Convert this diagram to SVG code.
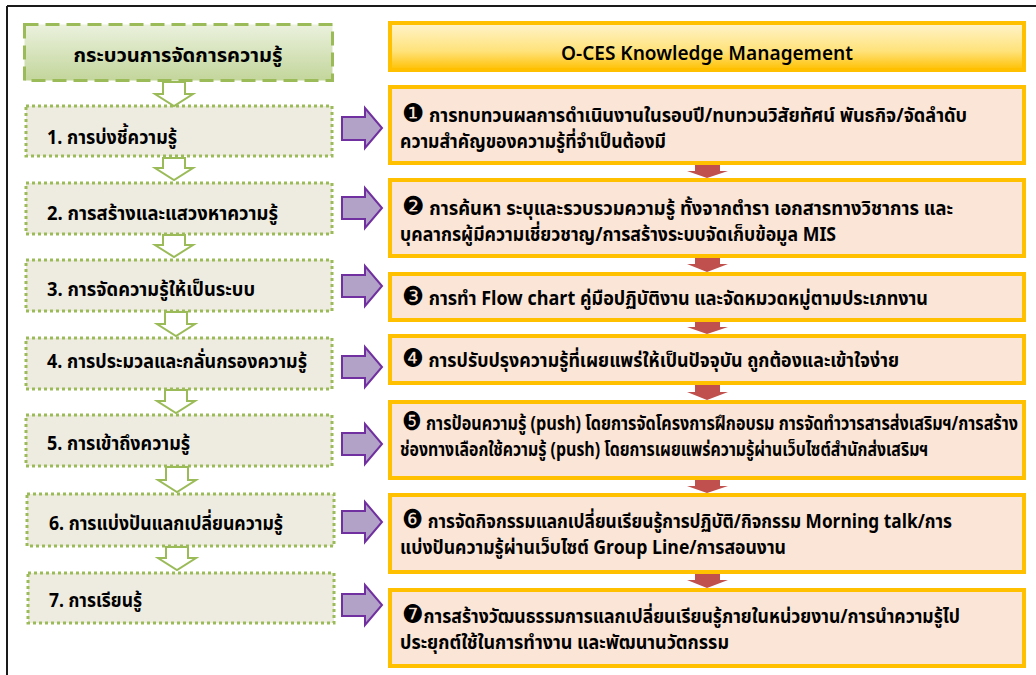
<svg xmlns="http://www.w3.org/2000/svg" width="1036" height="675" viewBox="0 0 1036 675">
<defs>
<linearGradient id="gHead" x1="0" y1="0" x2="0" y2="1">
<stop offset="0" stop-color="#ebf1de"/>
<stop offset="1" stop-color="#c3d69b"/>
</linearGradient>
<linearGradient id="yHead" x1="0" y1="0" x2="0" y2="1">
<stop offset="0" stop-color="#fff4cc"/>
<stop offset="0.6" stop-color="#ffe27a"/>
<stop offset="1" stop-color="#ffc000"/>
</linearGradient>
</defs>
<style>
.frame{stroke:#1a1a1a;stroke-width:2;fill:none}
.lhead{fill:url(#gHead);stroke:#9bbb59;stroke-width:3;stroke-dasharray:14 7}
.lbox{fill:#eeece1;stroke:#9bbb59;stroke-width:3;stroke-dasharray:3 3}
.rhead{fill:url(#yHead);stroke:#ffc000;stroke-width:4}
.rbox{fill:#fbe5d6;stroke:#ffc000;stroke-width:4}
.garrow{fill:#ffffff;stroke:#9bbb59;stroke-width:2}
.parrow{fill:#b3a2c7;stroke:#7030a0;stroke-width:2}
.rarrow{fill:#c0504d}
text{font-family:"Noto Sans Thai","Noto Sans","Liberation Sans",sans-serif;fill:#000;font-size:19px;font-weight:bold}
.lt{font-size:20px}
.num{font-family:"DejaVu Sans",sans-serif;font-size:26px;font-weight:normal}
</style>
<g id="frame">
<line class="frame" x1="7" y1="6" x2="1036" y2="6"/>
<line class="frame" x1="7" y1="6" x2="7" y2="675"/>
</g>
<g id="left-header">
<rect class="lhead" x="24.5" y="24.5" width="308" height="56"/>
<text class="lt" x="178" y="62" text-anchor="middle" textLength="209" lengthAdjust="spacingAndGlyphs">กระบวนการจัดการความรู้</text>
</g>
<g id="right-header">
<rect class="rhead" x="390" y="23" width="634" height="47"/>
<text x="707" y="60" text-anchor="middle" textLength="292" lengthAdjust="spacingAndGlyphs" style="font-size:20px;font-weight:600">O-CES Knowledge Management</text>
</g>
<g id="step1"><rect class="lbox" x="26" y="106" width="306" height="50"/><text class="lt" x="47" y="144" textLength="130" lengthAdjust="spacingAndGlyphs">1. การบ่งชี้ความรู้</text></g>
<g id="step2"><rect class="lbox" x="26" y="183" width="306" height="51"/><text class="lt" x="47" y="220" textLength="231" lengthAdjust="spacingAndGlyphs">2. การสร้างและแสวงหาความรู้</text></g>
<g id="step3"><rect class="lbox" x="26" y="260" width="306" height="51"/><text class="lt" x="47" y="296" textLength="208" lengthAdjust="spacingAndGlyphs">3. การจัดความรู้ให้เป็นระบบ</text></g>
<g id="step4"><rect class="lbox" x="26" y="338" width="306" height="51"/><text class="lt" x="47" y="368" textLength="260" lengthAdjust="spacingAndGlyphs">4. การประมวลและกลั่นกรองความรู้</text></g>
<g id="step5"><rect class="lbox" x="26" y="415" width="306" height="51"/><text class="lt" x="47" y="450" textLength="143" lengthAdjust="spacingAndGlyphs">5. การเข้าถึงความรู้</text></g>
<g id="step6"><rect class="lbox" x="27" y="494" width="307" height="52"/><text class="lt" x="49" y="530" textLength="234" lengthAdjust="spacingAndGlyphs">6. การแบ่งปันแลกเปลี่ยนความรู้</text></g>
<g id="step7"><rect class="lbox" x="28" y="573" width="306" height="50"/><text class="lt" x="49" y="607" textLength="93" lengthAdjust="spacingAndGlyphs">7. การเรียนรู้</text></g>
<g id="km1"><rect class="rbox" x="390" y="87" width="634" height="76"/>
<text x="402" y="122" textLength="565" lengthAdjust="spacingAndGlyphs"><tspan class="num">❶</tspan> การทบทวนผลการดำเนินงานในรอบปี/ทบทวนวิสัยทัศน์ พันธกิจ/จัดลำดับ</text>
<text x="400" y="148" textLength="266" lengthAdjust="spacingAndGlyphs">ความสำคัญของความรู้ที่จำเป็นต้องมี</text></g>
<g id="km2"><rect class="rbox" x="390" y="180" width="634" height="76"/>
<text x="402" y="215" textLength="551" lengthAdjust="spacingAndGlyphs"><tspan class="num">❷</tspan> การค้นหา ระบุและรวบรวมความรู้ ทั้งจากตำรา เอกสารทางวิชาการ และ</text>
<text x="400" y="241" textLength="436" lengthAdjust="spacingAndGlyphs">บุคลากรผู้มีความเชี่ยวชาญ/การสร้างระบบจัดเก็บข้อมูล MIS</text></g>
<g id="km3"><rect class="rbox" x="390" y="274" width="634" height="46"/>
<text x="402" y="305" textLength="526" lengthAdjust="spacingAndGlyphs"><tspan class="num">❸</tspan> การทำ Flow chart คู่มือปฏิบัติงาน และจัดหมวดหมู่ตามประเภทงาน</text></g>
<g id="km4"><rect class="rbox" x="390" y="336" width="634" height="47"/>
<text x="402" y="367" textLength="497" lengthAdjust="spacingAndGlyphs"><tspan class="num">❹</tspan> การปรับปรุงความรู้ที่เผยแพร่ให้เป็นปัจจุบัน ถูกต้องและเข้าใจง่าย</text></g>
<g id="km5"><rect class="rbox" x="390" y="402" width="634" height="76"/>
<text x="402" y="430" textLength="616" lengthAdjust="spacingAndGlyphs"><tspan class="num">❺</tspan> การป้อนความรู้ (push) โดยการจัดโครงการฝึกอบรม การจัดทำวารสารส่งเสริมฯ/การสร้าง</text>
<text x="400" y="456" textLength="528" lengthAdjust="spacingAndGlyphs">ช่องทางเลือกใช้ความรู้ (push) โดยการเผยแพร่ความรู้ผ่านเว็บไซต์สำนักส่งเสริมฯ</text></g>
<g id="km6"><rect class="rbox" x="390" y="495" width="634" height="77"/>
<text x="402" y="528" textLength="550" lengthAdjust="spacingAndGlyphs"><tspan class="num">❻</tspan> การจัดกิจกรรมแลกเปลี่ยนเรียนรู้การปฏิบัติ/กิจกรรม Morning talk/การ</text>
<text x="400" y="554" textLength="386" lengthAdjust="spacingAndGlyphs">แบ่งปันความรู้ผ่านเว็บไซต์ Group Line/การสอนงาน</text></g>
<g id="km7"><rect class="rbox" x="390" y="590" width="634" height="76"/>
<text x="402" y="623" textLength="558" lengthAdjust="spacingAndGlyphs"><tspan class="num">❼</tspan>การสร้างวัฒนธรรมการแลกเปลี่ยนเรียนรู้ภายในหน่วยงาน/การนำความรู้ไป</text>
<text x="400" y="649" textLength="329" lengthAdjust="spacingAndGlyphs">ประยุกต์ใช้ในการทำงาน และพัฒนานวัตกรรม</text></g>
<g id="connectors">
<polygon class="garrow" points="163,82 185,82 185,94 193,94 174,106 155,94 163,94"/>
<polygon class="garrow" points="163,158 185,158 185,168 193,168 174,180 155,168 163,168"/>
<polygon class="garrow" points="163,235 185,235 185,245 193,245 174,257 155,245 163,245"/>
<polygon class="garrow" points="165,312 187,312 187,324 195,324 176,336 157,324 165,324"/>
<polygon class="garrow" points="165,390 187,390 187,401 195,401 176,413 157,401 165,401"/>
<polygon class="garrow" points="166,467 188,467 188,480 196,480 177,492 158,480 166,480"/>
<polygon class="garrow" points="166,547 188,547 188,558 196,558 177,570 158,558 166,558"/>
<polygon class="parrow" points="342,117 365,117 365,108 382,128 365,148 365,140 342,140"/>
<polygon class="parrow" points="342,197 365,197 365,188 382,208 365,228 365,219 342,219"/>
<polygon class="parrow" points="342,275 365,275 365,266 382,286 365,306 365,297 342,297"/>
<polygon class="parrow" points="342,356 365,356 365,347 382,367 365,387 365,378 342,378"/>
<polygon class="parrow" points="342,433 365,433 365,424 382,444 365,464 365,455 342,455"/>
<polygon class="parrow" points="342,511 365,511 365,502 382,522 365,542 365,533 342,533"/>
<polygon class="parrow" points="342,594 365,594 365,585 382,605 365,625 365,616 342,616"/>
<polygon class="rarrow" points="695,165 720,165 720,171 728,171 707,178 687,171 695,171"/>
<polygon class="rarrow" points="695,258 720,258 720,264 728,264 707,272 687,264 695,264"/>
<polygon class="rarrow" points="695,322 720,322 720,327 728,327 707,334 687,327 695,327"/>
<polygon class="rarrow" points="695,385 720,385 720,392 728,392 707,400 687,392 695,392"/>
<polygon class="rarrow" points="695,480 720,480 720,486 728,486 707,493 687,486 695,486"/>
<polygon class="rarrow" points="695,574 720,574 720,580 728,580 707,588 687,580 695,580"/>
</g>
</svg>
